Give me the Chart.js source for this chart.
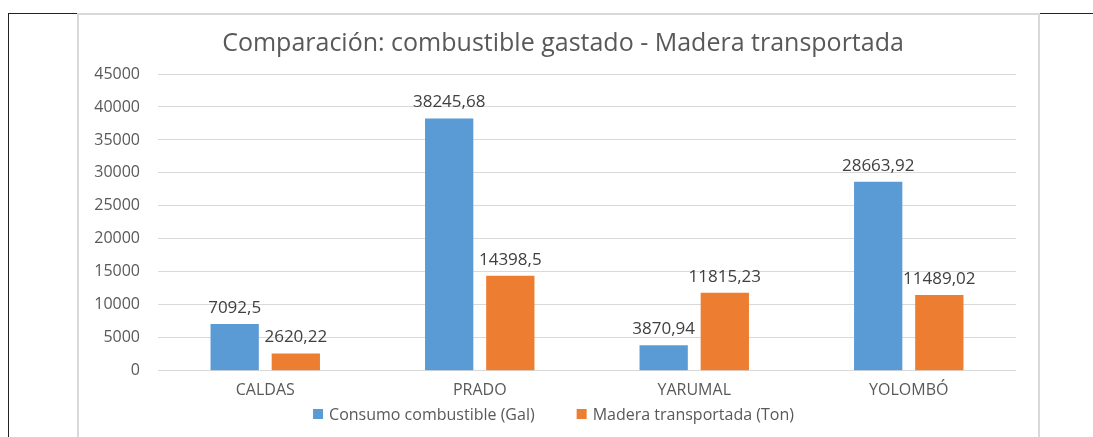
<!DOCTYPE html>
<html>
<head>
<meta charset="utf-8">
<script src="https://cdn.jsdelivr.net/npm/chart.js@4/dist/chart.umd.min.js"></script>
<style>
  html, body { margin: 0; padding: 0; background: #fff; }
  body { width: 1093px; height: 437px; position: relative; overflow: hidden; }
  .blk-left { position: absolute; left: 8px; top: 13px; width: 1px; height: 430px; background: #222; }
  .blk-top-l { position: absolute; left: 8px; top: 13px; width: 70px; height: 1px; background: #222; }
  .blk-top-r { position: absolute; left: 1040px; top: 13px; width: 53px; height: 1px; background: #222; }
  .frame { position: absolute; left: 77px; top: 13px; width: 963px; height: 430px;
           border: 2px solid #d9d9d9; border-bottom: none; box-sizing: border-box; }
  .box { position: absolute; left: 79px; top: 15px; width: 959px; height: 422px; }
</style>
</head>
<body>
<div class="blk-left"></div>
<div class="blk-top-l"></div>
<div class="blk-top-r"></div>
<div class="frame"></div>
<div class="box"><canvas id="barChart"></canvas></div>
<script>
  var categories = ['CALDAS', 'PRADO', 'YARUMAL', 'YOLOMBÓ'];
  var consumo = [7092.5, 38245.68, 3870.94, 28663.92];
  var madera = [2620.22, 14398.5, 11815.23, 11489.02];
  var seriesNames = ['Consumo combustible (Gal)', 'Madera transportada (Ton)'];
  var yTicks = [0, 5000, 10000, 15000, 20000, 25000, 30000, 35000, 40000, 45000];

  var FONT = '"Open Sans", sans-serif';

  // comma as decimal separator, like the original
  var fmt = function (v) {
    return String(v).replace('.', ',');
  };

  // value above every bar
  var barLabels = {
    id: 'barLabels',
    afterDatasetsDraw: function (chart) {
      var ctx = chart.ctx;
      ctx.save();
      ctx.font = '17px ' + FONT;
      ctx.fillStyle = '#404040';
      ctx.textAlign = 'center';
      ctx.textBaseline = 'middle';
      chart.data.datasets.forEach(function (ds, i) {
        chart.getDatasetMeta(i).data.forEach(function (bar, j) {
          ctx.fillText(fmt(ds.data[j]), bar.x, bar.y - 16);
        });
      });
      ctx.restore();
    }
  };

  // legend drawn by hand, the built-in one can't space items this wide
  var legendRow = {
    id: 'legendRow',
    afterDraw: function (chart) {
      var ctx = chart.ctx;
      var ds = chart.data.datasets;
      var box = 10, gapText = 6, gapItem = 42;
      ctx.save();
      ctx.font = '16px ' + FONT;
      ctx.textBaseline = 'middle';
      var widths = ds.map(function (d) { return box + gapText + ctx.measureText(d.label).width; });
      var total = widths[0] + widths[1] + gapItem;
      var x = chart.width / 2 - 5 - total / 2;
      var y = 400;
      ds.forEach(function (d, i) {
        ctx.fillStyle = d.backgroundColor;
        ctx.fillRect(x, y - box / 2 - 1, box, box);
        ctx.fillStyle = '#595959';
        ctx.fillText(d.label, x + box + gapText, y);
        x += widths[i] + gapItem;
      });
      ctx.restore();
    }
  };

  // title sits centred on the whole frame, not on the padded box
  var titleShift = {
    id: 'titleShift',
    afterLayout: function (chart) {
      chart.titleBlock.left += 31;
    }
  };

  var ctx = document.getElementById('barChart').getContext('2d');
  var myChart = new Chart(ctx, {
    type: 'bar',
    data: {
      labels: categories,
      datasets: [{
        label: seriesNames[0],
        data: consumo,
        backgroundColor: '#5B9BD5'
      }, {
        label: seriesNames[1],
        data: madera,
        backgroundColor: '#ED7D31'
      }]
    },
    options: {
      responsive: true,
      maintainAspectRatio: false,
      animation: false,
      categoryPercentage: 0.57,
      barPercentage: 0.79,
      layout: { padding: { left: 0, right: 22, top: 0, bottom: 27 } },
      plugins: {
        title: {
          display: true,
          text: 'Comparación: combustible gastado - Madera transportada',
          color: '#595959',
          font: { family: FONT, size: 25, weight: 'normal' },
          padding: { top: 14, bottom: 15 }
        },
        legend: { display: false },
        tooltip: { enabled: false }
      },
      scales: {
        x: {
          grid: { display: false, drawTicks: false },
          border: { display: false },
          ticks: {
            color: '#595959',
            font: { family: FONT, size: 16 },
            padding: 10
          }
        },
        y: {
          min: 0,
          max: 45000,
          afterBuildTicks: function (axis) {
            axis.ticks = yTicks.map(function (v) { return { value: v }; });
          },
          afterFit: function (axis) { axis.width = 79; },
          grid: { color: '#d9d9d9', drawTicks: false },
          border: { display: false },
          ticks: {
            color: '#595959',
            font: { family: FONT, size: 16 },
            padding: 18,
            callback: function (v) { return String(v); }
          }
        }
      }
    },
    plugins: [barLabels, legendRow, titleShift]
  });
</script>
</body>
</html>
